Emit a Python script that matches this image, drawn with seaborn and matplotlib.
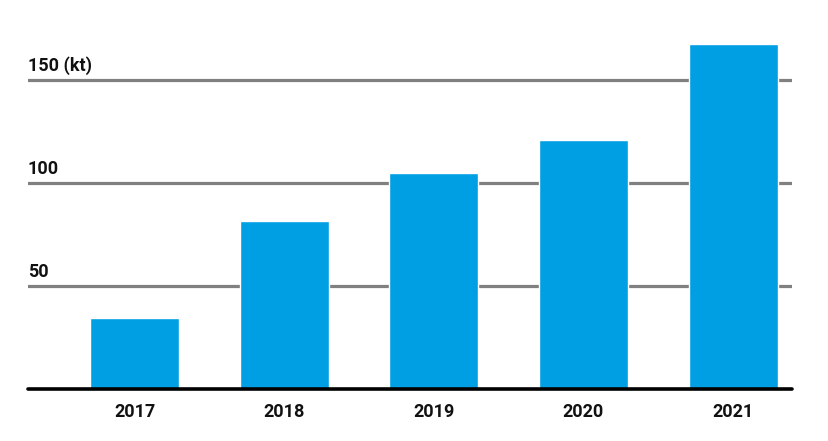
import matplotlib.pyplot as plt
import matplotlib.transforms as mtransforms
import pandas as pd
import seaborn as sns

years = ["2017", "2018", "2019", "2020", "2021"]
values = [34.5, 81.5, 105, 121, 167.5]
grid_values = [50, 100, 150]
grid_labels = ["50", "100", "150 (kt)"]

sns.set_style("white")
plt.rcParams["font.family"] = ["Roboto", "DejaVu Sans"]

df = pd.DataFrame({"year": years, "value": values})

fig = plt.figure(figsize=(8.29, 4.41), dpi=100)
ax = fig.add_axes([28 / 829, (441 - 389) / 441, 764 / 829, 360 / 441])

for g in grid_values:
    ax.axhline(g, color="#808080", linewidth=2.3, zorder=0)

sns.barplot(data=df, x="year", y="value", color="#009FE3", width=0.595,
            saturation=1, ax=ax, zorder=2)

ax.axhline(0, color="black", linewidth=2.6, zorder=3, clip_on=False)

trans = mtransforms.blended_transform_factory(ax.transAxes, ax.transData)
for g, lab in zip(grid_values, grid_labels):
    ax.text(0.0, g + 2.5, lab, transform=trans, ha="left", va="bottom",
            fontsize=13, fontweight="bold", color="#111111")

ax.set_xlim(-0.712, 4.394)
ax.set_ylim(0, 175)
ax.set_yticks([])
ax.set_xlabel("")
ax.set_ylabel("")
ax.tick_params(axis="x", length=0, pad=10, labelsize=13)
for t in ax.get_xticklabels():
    t.set_fontweight("bold")
    t.set_color("#111111")
for s in ax.spines.values():
    s.set_visible(False)

fig.savefig("out.png", dpi=100)
